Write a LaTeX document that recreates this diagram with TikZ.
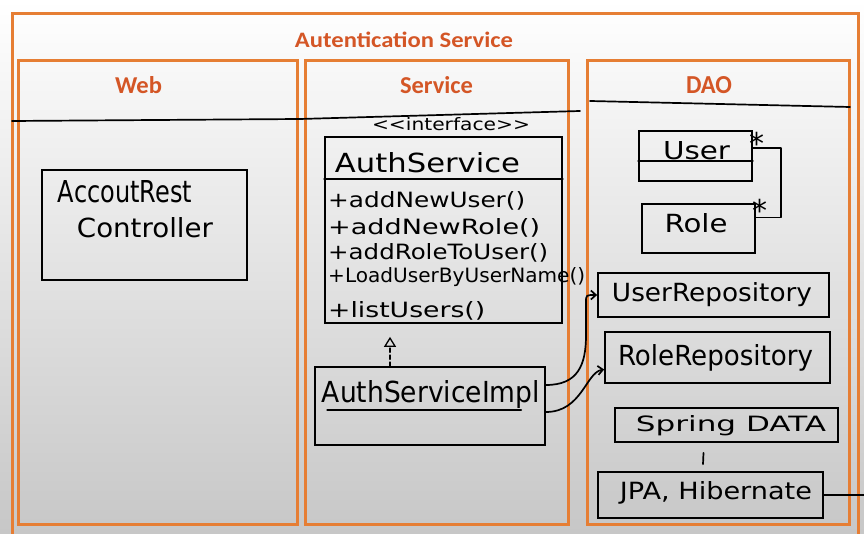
\documentclass[tikz,border=0pt]{standalone}
\usepackage{fontspec}
\setmainfont{DejaVu Sans}
\newfontfamily\titlefont{Carlito}
\usetikzlibrary{calc,arrows.meta}
\definecolor{frameor}{RGB}{230,126,52}
\definecolor{titleor}{RGB}{212,86,38}
\newcommand{\hw}[3]{\resizebox{#1pt}{#2pt}{#3}}
\begin{document}
\begin{tikzpicture}[x=1pt,y=-1pt,
  frame/.style={draw=frameor, line width=3pt},
  ttl/.style={text=titleor, font=\titlefont\bfseries, inner sep=0pt},
  hand/.style={draw=black, line width=1.7pt, line cap=round, line join=round},
  umlbox/.style={draw=black, line width=1.7pt, rectangle, inner sep=0pt},
  txt/.style={inner sep=0pt, text=black},
  star/.style={inner sep=0pt, text=black, font=\fontsize{30}{30}\selectfont}
]
\useasboundingbox (0,0) rectangle (864,534);
\shade[top color=white, middle color=black!7, bottom color=black!22] (0,0) rectangle (864,534);

% frames
\begin{scope}
\clip (0,0) rectangle (864,534);
\draw[frame] (12,14) rectangle (858,545);
\end{scope}
\draw[frame] (18,61) rectangle (297,524);
\draw[frame] (305,61) rectangle (568,524);
\draw[frame] (587,61) rectangle (849,524);

% titles
\node[ttl] (tMain) at (404,39.5) {\hw{218}{15.5}{Autentication Service}};
\node[ttl] (tWeb) at (138.5,85.5) {\hw{47}{17}{Web}};
\node[ttl] (tSrv) at (436.5,85.5) {\hw{73}{17}{Service}};
\node[ttl] (tDao) at (709,85.5) {\hw{46}{17}{DAO}};

% header separator lines
\draw[hand] (12,121) -- (300,119) -- (580,111);
\draw[hand] (590,101) -- (850,107);

% Web
\node[umlbox, minimum width=205pt, minimum height=110pt] (acc) at (144.5,225) {};
\node[txt] (tAcc1) at (125,192) {\hw{134}{22}{AccoutRest}};
\node[txt] (tAcc2) at (145,228) {\hw{136}{20}{Controller}};

% Service
\node[txt] (tIface) at (451,124) {\hw{158}{13}{{<}{<}interface{>}{>}}};
\node[umlbox, minimum width=237pt, minimum height=186pt] (iface) at (443.5,230) {};
\draw[hand] ($(iface.north west)+(0,43)$) -- ($(iface.north east)+(0,43)$);
\node[txt] (tAuth) at (427.5,163) {\hw{185}{20}{AuthService}};
\node[txt, anchor=west] (m1) at (328,201) {\hw{197}{16}{+addNewUser()}};
\node[txt, anchor=west] (m2) at (328,228) {\hw{212}{16}{+addNewRole()}};
\node[txt, anchor=west] (m3) at (328,253) {\hw{220}{16}{+addRoleToUser()}};
\node[txt, anchor=west] (m4) at (328,277) {\hw{257}{15}{+LoadUserByUserName()}};
\node[txt, anchor=west] (m5) at (328,311) {\hw{157}{16}{+listUsers()}};

\node[umlbox, minimum width=230pt, minimum height=78pt] (impl) at (430,406) {};
\node[txt] (tImpl) at (431,395) {\hw{218}{22}{AuthServiceImpl}};
\draw[hand] ($(impl.north west)+(13,44)$) -- ++(194,0);

% realization
\draw[hand, dash pattern=on 4pt off 3pt, shorten >=13pt,
  -{Triangle[open, length=10pt, width=12pt, line width=1.3pt]}]
  (impl.north -| 390,0) -- (iface.south -| 390,0);

% DAO
\node[umlbox, minimum width=113pt, minimum height=50pt] (user) at (695.5,156) {};
\draw[hand] ($(user.north west)+(0,31)$) -- ($(user.north east)+(0,31)$);
\node[txt] (tUser) at (696.5,151) {\hw{67}{18}{User}};
\node[umlbox, minimum width=113pt, minimum height=49pt] (role) at (698.5,228.5) {};
\node[txt] (tRole) at (696,223) {\hw{63}{19}{Role}};
\node[star] (st1) at (757,143) {*};
\node[star] (st2) at (760,210) {*};
\draw[hand] ($(user.east)+(0,-8)$) -- ++(28,0) |- ($(role.east)+(0,-11)$);

\node[umlbox, minimum width=231pt, minimum height=44pt] (urepo) at (713.5,295) {};
\node[txt] (tURepo) at (712,295) {\hw{200}{19}{UserRepository}};
\node[umlbox, minimum width=225pt, minimum height=51pt] (rrepo) at (717.5,357.5) {};
\node[txt] (tRRepo) at (715.5,358) {\hw{195}{21}{RoleRepository}};
\node[umlbox, minimum width=223pt, minimum height=34pt] (spring) at (726.5,425) {};
\node[txt] (tSpring) at (731,426) {\hw{190}{16}{Spring DATA}};
\node[umlbox, minimum width=225pt, minimum height=46pt] (jpa) at (710.5,495) {};
\node[txt] (tJpa) at (716,493) {\hw{192}{18}{JPA, Hibernate}};
\draw[hand] ($(spring.south)+(-23,10)$) -- ($(jpa.north)+(-7.5,-7)$);
\coordinate (edge) at (864,495);
\draw[hand] (jpa.east) -- (edge);

% dependencies from impl
\draw[hand, -{Straight Barb[length=5pt, width=9pt]}]
  ($(impl.east)+(0,-21)$) .. controls (578,385) and (586,365) .. (586,335)
  -- (586,302) .. controls (586,295) .. (urepo.west);
\draw[hand, -{Straight Barb[length=5pt, width=9pt]}]
  ($(impl.east)+(0,6)$) .. controls (582,412) and (586,372) .. ($(rrepo.west)+(0,12)$);
\end{tikzpicture}
\end{document}
